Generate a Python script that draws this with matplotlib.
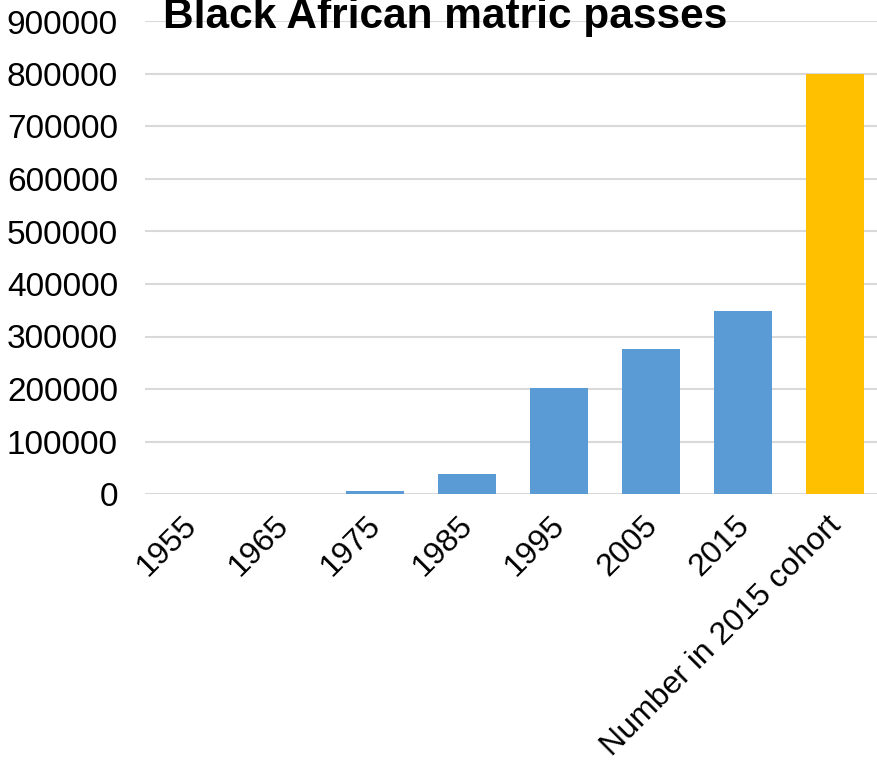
import matplotlib
matplotlib.use("Agg")
import matplotlib.pyplot as plt
from matplotlib.transforms import ScaledTranslation

categories = ["1955", "1965", "1975", "1985", "1995", "2005", "2015", "Number in 2015 cohort"]
values = [300, 800, 5000, 38000, 201000, 277000, 349000, 800000]
colors = ["#5B9BD5"] * 7 + ["#FFC000"]
yticks = [0, 100000, 200000, 300000, 400000, 500000, 600000, 700000, 800000, 900000]

plt.rcParams['font.family'] = ['Liberation Sans', 'DejaVu Sans']

fig = plt.figure(figsize=(8.78, 7.71), dpi=100)
ax = fig.add_axes([145/878, (771-494)/771, 1 - 145/878, (494-21.5)/771])
x = list(range(len(categories)))
ax.bar(x, values, width=0.63, color=colors, zorder=3)
ax.set_xlim(-0.5, 7.467)
ax.set_ylim(0, 900000)
ax.set_yticks(yticks)
ax.set_yticklabels([str(v) for v in yticks], fontsize=24)
ax.set_xticks(x)
ax.set_xticklabels(categories, fontsize=23, rotation=45, ha='right', rotation_mode='anchor')
ax.tick_params(axis='both', length=0)
ax.tick_params(axis='y', pad=19.5)
ax.tick_params(axis='x', pad=6)
offset = ScaledTranslation(-0.09, -0.08, fig.dpi_scale_trans)
for lab in ax.get_xticklabels():
    lab.set_transform(lab.get_transform() + offset)
for s in ax.spines.values():
    s.set_visible(False)
ax.grid(axis='y', color='#d9d9d9', linewidth=1.5, zorder=0)
ax.set_axisbelow(True)
fig.text(445/878, 1 - 28/771, "Black African matric passes", fontsize=30.5, fontweight='bold',
         ha='center', va='baseline')
fig.savefig("out.png", dpi=100)
